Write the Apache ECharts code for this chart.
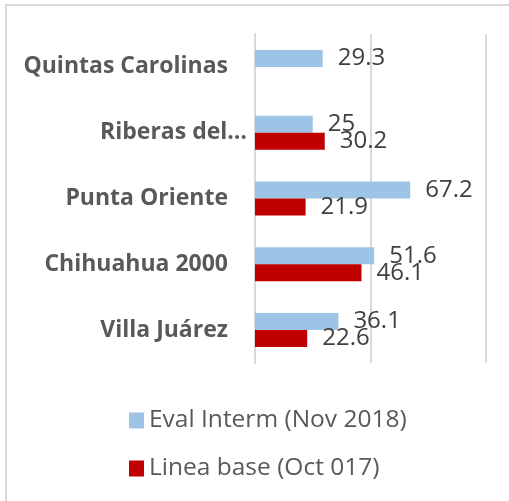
<!DOCTYPE html>
<html>
<head>
<meta charset="utf-8">
<script src="https://cdn.jsdelivr.net/npm/echarts@6/dist/echarts.min.js"></script>
<style>html,body{margin:0;padding:0;background:#fff}#c{width:509px;height:501px}</style>
</head>
<body>
<div id="c"></div>
<script>
var categories = ['Quintas Carolinas', 'Riberas del…', 'Punta Oriente', 'Chihuahua 2000', 'Villa Juárez'];
var evalInterm = [29.3, 25, 67.2, 51.6, 36.1];
var lineaBase = [null, 30.2, 21.9, 46.1, 22.6];
var seriesNames = ['Eval Interm (Nov 2018)', 'Linea base (Oct 017)'];
var xTicks = [0, 50, 100];

var chart = echarts.init(document.getElementById('c'));
var valueLabel = {
  show: true, position: 'right', distance: 15,
  color: '#404040', fontSize: 24, fontFamily: 'Open Sans'
};
chart.setOption({
  animation: false,
  graphic: [{
    type: 'rect', shape: {x: 6, y: 5, width: 600, height: 600},
    style: {fill: 'none', stroke: '#d9d9d9', lineWidth: 2}, z: -1
  }],
  grid: {left: 255, right: 23, top: 34, bottom: 138, containLabel: false},
  xAxis: {
    type: 'value', min: xTicks[0], max: xTicks[xTicks.length - 1], interval: 50,
    axisLabel: {show: false}, axisTick: {show: false}, axisLine: {show: false},
    splitLine: {show: true, lineStyle: {color: '#d9d9d9', width: 2}}
  },
  yAxis: {
    type: 'category', data: categories, inverse: true,
    axisTick: {show: false},
    axisLine: {show: true, lineStyle: {color: '#d9d9d9', width: 2}},
    axisLabel: {
      margin: 8,
      formatter: function (v) { return v.indexOf('…') >= 0 ? '{t|' + v + '}' : '{p|' + v + '}'; },
      rich: {
        t: {fontSize: 23, fontWeight: 'bold', color: '#595959', fontFamily: 'Open Sans'},
        p: {fontSize: 23, fontWeight: 'bold', color: '#595959', fontFamily: 'Open Sans', padding: [0, 19, 0, 0]}
      }
    }
  },
  legend: {
    orient: 'vertical', left: 124, top: 403,
    itemWidth: 15, itemHeight: 16, itemGap: 23,
    icon: 'rect',
    textStyle: {fontSize: 24.5, color: '#595959', fontFamily: 'Open Sans'},
    data: seriesNames
  },
  series: [
    {name: seriesNames[0], type: 'bar', data: evalInterm, barWidth: 17, barGap: '0%',
     itemStyle: {color: '#9DC3E6'}, label: valueLabel},
    {name: seriesNames[1], type: 'bar', data: lineaBase, barWidth: 17, barGap: '0%',
     itemStyle: {color: '#C00000'}, label: valueLabel}
  ]
});
</script>
</body>
</html>
